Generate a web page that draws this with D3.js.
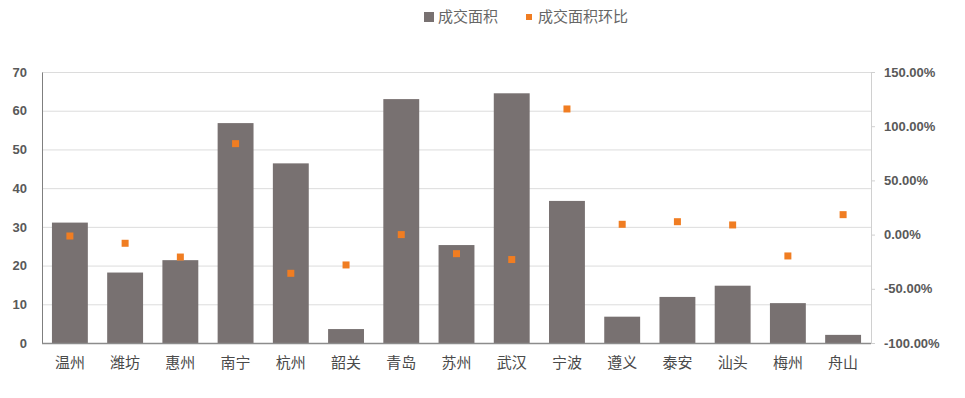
<!DOCTYPE html>
<html>
<head>
<meta charset="utf-8">
<script src="https://cdn.jsdelivr.net/npm/d3@7"></script>
<style>
  body { margin: 0; background: #fff; }
  text { font-family: "Liberation Sans", Arial, sans-serif; }
</style>
</head>
<body>
<svg id="chart" width="965" height="398"></svg>
<script>
// Data
const cities = ["温州", "潍坊", "惠州", "南宁", "杭州", "韶关", "青岛", "苏州", "武汉", "宁波", "遵义", "泰安", "汕头", "梅州", "舟山"];
const area = [31.1, 18.2, 21.4, 56.8, 46.4, 3.6, 63.0, 25.3, 64.5, 36.7, 6.8, 11.9, 14.8, 10.3, 2.1];
const areaChange = [-1.3, -8.0, -20.7, 83.9, -35.7, -28.0, 0.0, -17.6, -23.0, 115.9, 9.5, 11.9, 8.9, -19.7, 18.4];
const leftTicks = [0, 10, 20, 30, 40, 50, 60, 70];
const rightTicks = [-100, -50, 0, 50, 100, 150];
const seriesNames = ["成交面积", "成交面积环比"];

const BAR_COLOR = "#787171";
const DOT_COLOR = "#f07d22";
const cjk = '"Noto Sans CJK SC", "Noto Sans", sans-serif';

const svg = d3.select("#chart");
const plotLeft = 42, plotRight = 871, plotTop = 72, plotBottom = 343;

// Scales
const xScale = d3.scaleBand().domain(cities).range([plotLeft, plotRight]).paddingInner(0.35).paddingOuter(0.18);
const yLeft = d3.scaleLinear().domain([0, 70]).range([plotBottom, plotTop]);
const yRight = d3.scaleLinear().domain([-100, 150]).range([plotBottom, plotTop]);

// Grid
svg.append("g")
  .selectAll("line")
  .data(leftTicks.slice(1))
  .join("line")
  .attr("x1", plotLeft).attr("x2", plotRight)
  .attr("y1", (d) => yLeft(d) + 0.5).attr("y2", (d) => yLeft(d) + 0.5)
  .style("stroke", "#dcdcdc").style("stroke-width", 1);

// Bars
svg.append("g")
  .selectAll("rect")
  .data(area)
  .join("rect")
  .attr("x", (d, i) => xScale(cities[i]))
  .attr("width", xScale.bandwidth())
  .attr("y", (d) => yLeft(d))
  .attr("height", (d) => yLeft(0) - yLeft(d))
  .style("fill", BAR_COLOR);

// Markers
const ms = 7;
svg.append("g")
  .selectAll("rect")
  .data(areaChange)
  .join("rect")
  .attr("x", (d, i) => xScale(cities[i]) + xScale.bandwidth() / 2 - ms / 2)
  .attr("y", (d) => yRight(d) - ms / 2)
  .attr("width", ms).attr("height", ms)
  .style("fill", DOT_COLOR);

// Left axis
const yAxisL = d3.axisLeft(yLeft).tickValues(leftTicks).tickSize(0).tickPadding(15);
const gL = svg.append("g").attr("transform", `translate(${plotLeft},0)`).call(yAxisL);
gL.select(".domain").style("stroke", "#7f7f7f");
gL.selectAll("text").style("font-size", "13px").style("font-weight", "bold").style("fill", "#595959");

// Right axis
const yAxisR = d3.axisRight(yRight).tickValues(rightTicks).tickSize(4).tickPadding(9)
  .tickFormat((d) => d.toFixed(2) + "%");
const gR = svg.append("g").attr("transform", `translate(${plotRight},0)`).call(yAxisR);
gR.select(".domain").style("stroke", "#d0d0d0");
gR.selectAll(".tick line").style("stroke", "#d0d0d0");
gR.selectAll("text").style("font-size", "13px").style("font-weight", "bold").style("fill", "#595959");

// Bottom axis
const xAxis = d3.axisBottom(xScale).tickSize(0).tickPadding(14);
const gX = svg.append("g").attr("transform", `translate(0,${plotBottom})`).call(xAxis);
gX.select(".domain").attr("d", `M${plotLeft},0.5H${plotRight}`).style("stroke", "#8c8c8c").style("stroke-width", 1.5);
gX.selectAll("text").style("font-size", "15px").style("font-family", cjk).style("fill", "#4a4a4a");

// Legend
const legend = svg.append("g").attr("transform", "translate(424,17)");
legend.append("rect").attr("x", 0).attr("y", -5).attr("width", 10).attr("height", 10).style("fill", BAR_COLOR);
legend.append("text").attr("x", 14).attr("y", 0).attr("dy", "0.35em").text(seriesNames[0])
  .style("font-size", "15px").style("font-family", cjk).style("fill", "#666");
legend.append("rect").attr("x", 102).attr("y", -3).attr("width", 6).attr("height", 6).style("fill", DOT_COLOR);
legend.append("text").attr("x", 114).attr("y", 0).attr("dy", "0.35em").text(seriesNames[1])
  .style("font-size", "15px").style("font-family", cjk).style("fill", "#666");
</script>
</body>
</html>
